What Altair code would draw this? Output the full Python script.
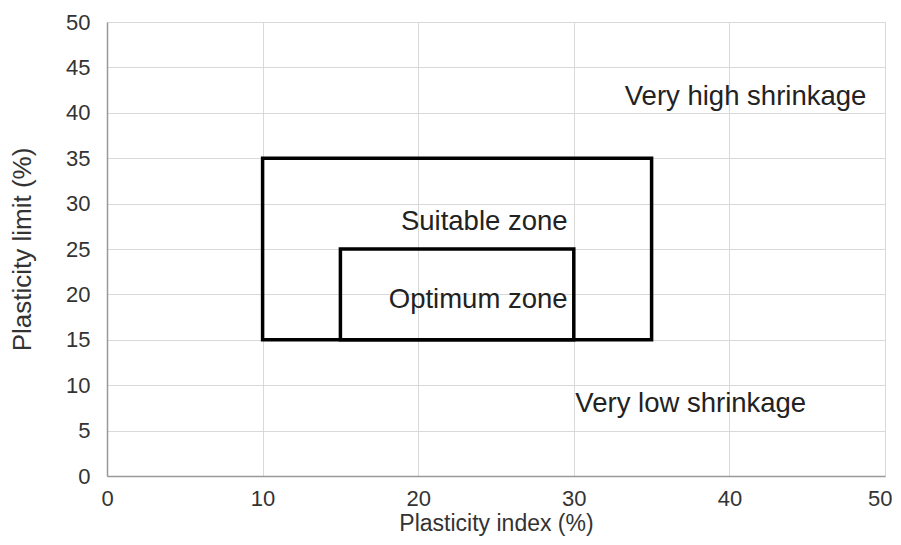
import altair as alt
import pandas as pd

# Zone rectangles
zone_names = ["Suitable", "Optimum"]
zone_x1 = [10, 15]
zone_x2 = [35, 30]
zone_y1 = [15, 15]
zone_y2 = [35, 25]

# Annotations
label_texts = ["Very high shrinkage", "Suitable zone", "Optimum zone", "Very low shrinkage"]
label_x = [48.8, 29.6, 29.6, 30.1]
label_y = [41.7, 28.0, 19.4, 7.9]
label_align = ["right", "right", "right", "left"]

rects = pd.DataFrame({"zone": zone_names, "x1": zone_x1, "x2": zone_x2, "y1": zone_y1, "y2": zone_y2})
labels = pd.DataFrame({"text": label_texts, "x": label_x, "y": label_y, "align": label_align})

FONT = "Liberation Sans"

xs = alt.Scale(domain=[0, 50], nice=False)
ys = alt.Scale(domain=[0, 50], nice=False)

xaxis = alt.Axis(
    values=[0, 10, 20, 30, 40, 50], title="Plasticity index (%)", ticks=False,
    labelPadding=12, titlePadding=3, labelFlush=False, titleFontSize=23,
    labelAlign=alt.ExprRef("datum.value == 50 ? 'right' : 'center'"),
    labelOffset=alt.ExprRef("datum.value == 50 ? 7 : 0"),
)
yaxis = alt.Axis(values=list(range(0, 55, 5)), title="Plasticity limit (%)", ticks=False,
                 labelPadding=17, titlePadding=30, titleFontSize=26)

box = alt.Chart(rects).mark_rect(fill=None, stroke="black", strokeWidth=3.5).encode(
    x=alt.X("x1:Q", scale=xs, axis=xaxis),
    x2="x2:Q",
    y=alt.Y("y1:Q", scale=ys, axis=yaxis),
    y2="y2:Q",
)

txt_r = alt.Chart(labels[labels["align"] == "right"]).mark_text(
    align="right", baseline="middle", fontSize=27.5, font=FONT, color="#222222"
).encode(x=alt.X("x:Q", scale=xs), y=alt.Y("y:Q", scale=ys), text="text:N")

txt_l = alt.Chart(labels[labels["align"] == "left"]).mark_text(
    align="left", baseline="middle", fontSize=27.5, font=FONT, color="#222222"
).encode(x=alt.X("x:Q", scale=xs), y=alt.Y("y:Q", scale=ys), text="text:N")

chart = alt.layer(box, txt_r, txt_l).properties(
    width=778, height=454,
    autosize=alt.AutoSizeParams(type="none"),
    padding={"left": 99, "top": 14, "right": 8, "bottom": 61},
).configure_axis(
    domainColor="#999999", domainWidth=1.5,
    gridColor="#d9d9d9", gridWidth=1,
    labelFont=FONT, labelFontSize=22, labelColor="#333333",
    titleFont=FONT, titleColor="#333333", titleFontWeight="normal",
).configure_view(stroke="#d9d9d9")

chart.save("out.html", embed_options={"renderer": "svg", "actions": False})
